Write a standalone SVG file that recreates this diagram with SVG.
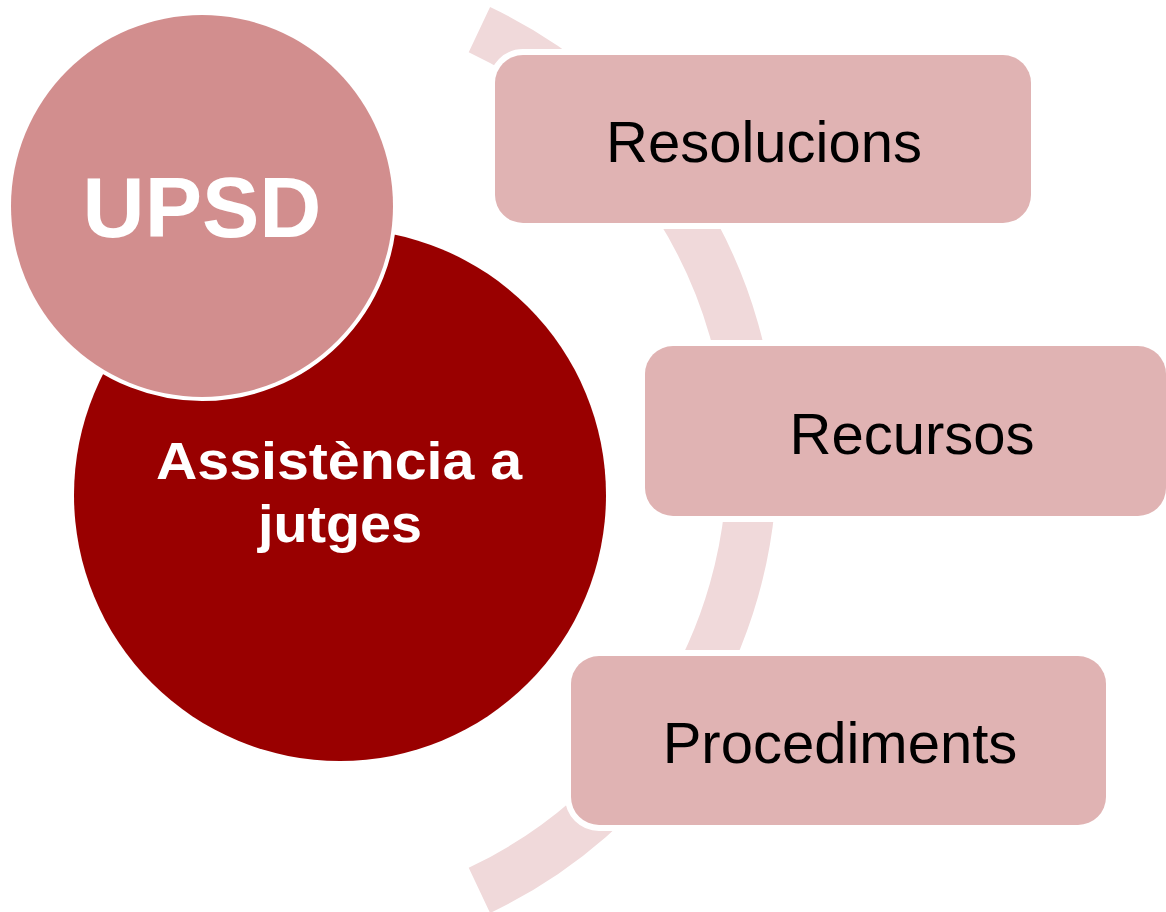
<svg xmlns="http://www.w3.org/2000/svg" width="1166" height="912" viewBox="0 0 1166 912">
<style>
.box{fill:#e0b3b3;stroke:#ffffff;stroke-width:12;paint-order:stroke}
.lbl{font-family:"Liberation Sans",Arial,sans-serif;font-size:58px;fill:#000000;text-anchor:middle}
.wt{font-family:"Liberation Sans",Arial,sans-serif;font-weight:bold;fill:#ffffff;text-anchor:middle}
</style>
<rect width="1166" height="912" fill="#ffffff"/>
<g id="connectors">
<path d="M479.4,29.6 A476,476 0 0 1 479.4,890.4" fill="none" stroke="#f0d9da" stroke-width="50"/>
</g>
<g id="node-assistencia">
<circle cx="340" cy="495" r="266" fill="#990000"/>
<text class="wt" x="339" y="479" font-size="51" textLength="366" lengthAdjust="spacingAndGlyphs">Assistència a</text>
<text class="wt" x="340" y="542" font-size="51" textLength="164" lengthAdjust="spacingAndGlyphs">jutges</text>
</g>
<g id="node-upsd">
<circle cx="202" cy="206" r="191" fill="#d28e8e" stroke="#ffffff" stroke-width="8" paint-order="stroke"/>
<text class="wt" x="202" y="237" font-size="86">UPSD</text>
</g>
<g id="node-resolucions">
<rect class="box" x="495" y="55" width="536" height="168" rx="28"/>
<text class="lbl" x="764" y="162">Resolucions</text>
</g>
<g id="node-recursos">
<rect class="box" x="645" y="346" width="521" height="170" rx="28"/>
<text class="lbl" x="912" y="454">Recursos</text>
</g>
<g id="node-procediments">
<rect class="box" x="571" y="656" width="535" height="169" rx="28"/>
<text class="lbl" x="840" y="763">Procediments</text>
</g>
</svg>
